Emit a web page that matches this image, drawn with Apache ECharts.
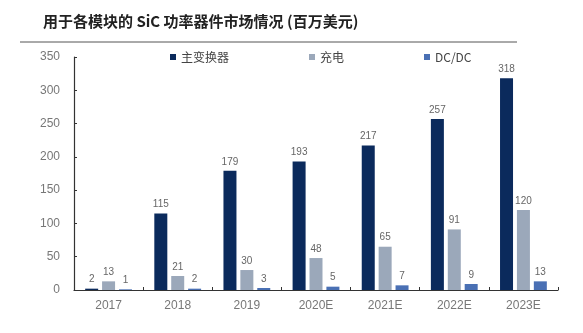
<!DOCTYPE html>
<html><head><meta charset="utf-8">
<script src="https://cdn.jsdelivr.net/npm/echarts@6/dist/echarts.min.js"></script>
<style>html,body{margin:0;padding:0;background:#fff}#c{width:583px;height:333px}</style>
</head><body><div id="c"></div>
<script>
const categories = ['2017','2018','2019','2020E','2021E','2022E','2023E'];
const seriesNames = ['主变换器','充电','DC/DC'];
const mainInverter = [2,115,179,193,217,257,318];
const charging = [13,21,30,48,65,91,120];
const dcdc = [1,2,3,5,7,9,13];
const yTicks = [0,50,100,150,200,250,300,350];
const titleText = '用于各模块的 SiC 功率器件市场情况 (百万美元)';

const chart = echarts.init(document.getElementById('c'));
const colors = ['#0b2a5c','#9ba8ba','#4a70b4'];
const lbl = {show:true, position:'top', color:'#666', fontSize:10, fontFamily:'Liberation Sans, Arial', distance:4};
chart.setOption({
  animation:false,
  title:{text:titleText, left:38, top:9, textStyle:{fontSize:15, fontWeight:'bold', color:'#222', fontFamily:'Noto Sans CJK SC'}},
  graphic:[{type:'line', shape:{x1:20,y1:42,x2:517,y2:42}, style:{stroke:'#555', lineWidth:1}}],
  legend:{top:46, left:165, itemWidth:6, itemHeight:6, itemGap:80, icon:'rect',
    textStyle:{fontSize:12, color:'#444', fontFamily:'Noto Sans CJK SC'}, data:seriesNames},
  grid:{left:74, right:25, top:57, bottom:43},
  xAxis:{type:'category', data:categories, boundaryGap:true,
    axisLine:{lineStyle:{color:'#333', width:1.2}},
    axisTick:{show:true, inside:true, length:3, lineStyle:{color:'#333'}},
    axisLabel:{color:'#777', fontSize:12, margin:10, fontFamily:'Liberation Sans, Arial'}},
  yAxis:{type:'value', min:0, max:350, interval:50,
    axisLine:{show:true, lineStyle:{color:'#333', width:1.2}},
    axisTick:{show:true, inside:true, length:3, lineStyle:{color:'#333'}},
    splitLine:{show:false},
    axisLabel:{color:'#777', fontSize:12, margin:14, fontFamily:'Liberation Sans, Arial',
      formatter:v=>yTicks.includes(v)?String(v):''}},
  series:[
    {name:seriesNames[0], type:'bar', data:mainInverter, itemStyle:{color:colors[0]}, barWidth:13, barGap:'30%', barCategoryGap:'32%', label:lbl},
    {name:seriesNames[1], type:'bar', data:charging, itemStyle:{color:colors[1]}, barWidth:13, barGap:'30%', label:lbl},
    {name:seriesNames[2], type:'bar', data:dcdc, itemStyle:{color:colors[2]}, barWidth:13, barGap:'30%', label:lbl}
  ]
});
</script></body></html>
